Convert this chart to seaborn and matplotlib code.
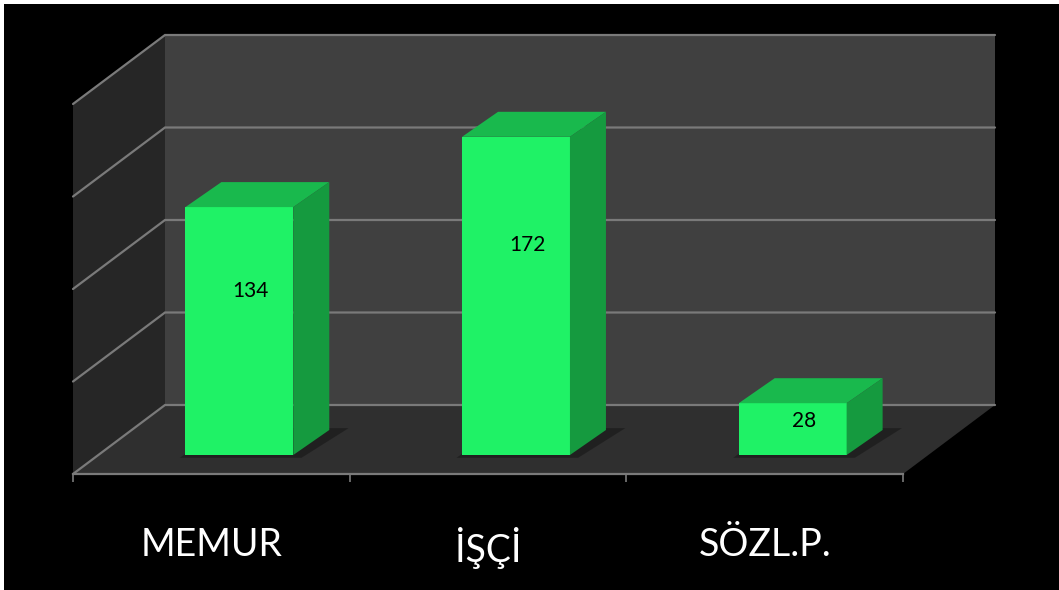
import numpy as np
import pandas as pd
import seaborn as sns
import matplotlib.pyplot as plt
from matplotlib.patches import Polygon, Rectangle

# values
categories = ["MEMUR", "\u0130\u015e\u00c7\u0130", "S\u00d6ZL.P."]
values = [134, 172, 28]
grid_values = [0, 50, 100, 150, 200]

# colours
front_col = "#1ff266"
top_col = "#19b94d"
side_col = "#159a3f"
back_wall = "#404040"
side_wall = "#262626"
floor_col = "#2f2f2f"
grid_col = "#7a7a7a"

W, H = 1059, 590
px_cat = 830 / 3          # pixels per category
px_val = 1.85             # pixels per value unit

# depth vector of the floor (data units of the front plane)
Dx, Dy = 92 / px_cat, 69 / px_val
# bar front offset and bar depth (pixels)
bar_off = (28, 19)
bar_depth = (36 / px_cat, 25 / px_val)

sns.set_style("white")
plt.rcParams["font.family"] = ["Lato", "DejaVu Sans"]

fig = plt.figure(figsize=(W / 100, H / 100), dpi=100, facecolor="white")
fig.add_artist(Rectangle((4 / W, 0), 1, (H - 4) / H, transform=fig.transFigure,
                         facecolor="black", edgecolor="none", zorder=-10))

ylim = (0, 240)
ax_rect = [73 / W, (H - 474) / H, 830 / W, ylim[1] * px_val / H]
ax = fig.add_axes(ax_rect)
ax.set_xlim(-0.5, 2.5)
ax.set_ylim(*ylim)
ax.patch.set_visible(False)

top = grid_values[-1]
x0, x1 = -0.5, 2.5
# walls and floor
ax.add_patch(Polygon([(x0, 0), (x0 + Dx, Dy), (x0 + Dx, Dy + top), (x0, top)],
                     closed=True, facecolor=side_wall, edgecolor="none", clip_on=False, zorder=0))
ax.add_patch(Polygon([(x0 + Dx, Dy), (x1 + Dx, Dy), (x1 + Dx, Dy + top), (x0 + Dx, Dy + top)],
                     closed=True, facecolor=back_wall, edgecolor="none", clip_on=False, zorder=0))
ax.add_patch(Polygon([(x0, 0), (x1, 0), (x1 + Dx, Dy), (x0 + Dx, Dy)],
                     closed=True, facecolor=floor_col, edgecolor="none", clip_on=False, zorder=0))
for v in grid_values:
    ax.plot([x0, x0 + Dx, x1 + Dx], [v, Dy + v, Dy + v], color=grid_col, lw=1.6,
            clip_on=False, zorder=1, solid_joinstyle="miter")

# axis with category labels
ax.set_xticks(range(len(categories)))
ax.set_xticklabels(categories, fontsize=27, color="white")
ax.set_xticks([-0.5, 0.5, 1.5, 2.5], minor=True)
ax.tick_params(axis="x", which="both", bottom=True)
ax.tick_params(axis="x", which="major", length=0, pad=38)
ax.tick_params(axis="x", which="minor", length=6, width=1.2, color=grid_col)
ax.set_yticks([])
for s in ["top", "right", "left"]:
    ax.spines[s].set_visible(False)
ax.spines["bottom"].set_color(grid_col)
ax.spines["bottom"].set_linewidth(1.6)

# bar plane, shifted into the depth
bx = fig.add_axes([ax_rect[0] + bar_off[0] / W, ax_rect[1] + bar_off[1] / H, ax_rect[2], ax_rect[3]])

df = pd.DataFrame({"cat": categories, "val": values})
sns.barplot(data=df, x="cat", y="val", color=front_col, saturation=1, width=0.39,
            ax=bx, zorder=3, edgecolor="none")
bx.set_xlim(-0.5, 2.5)
bx.set_ylim(*ylim)
bx.axis("off")

ddx, ddy = bar_depth
for p, v in zip(list(bx.patches), values):
    bl = p.get_x()
    br = bl + p.get_width()
    h = p.get_height()
    # soft shadow on the floor
    bx.add_patch(Polygon([(bl - 0.02, -1.5), (br + 0.03, -1.5), (br + ddx + 0.07, ddy + 1),
                          (bl + ddx, ddy + 1)], closed=True, facecolor="black",
                         alpha=0.3, edgecolor="none", zorder=2, clip_on=False))
    bx.add_patch(Polygon([(bl, h), (br, h), (br + ddx, h + ddy), (bl + ddx, h + ddy)],
                         closed=True, facecolor=top_col, edgecolor="none", zorder=3, clip_on=False))
    bx.add_patch(Polygon([(br, 0), (br + ddx, ddy), (br + ddx, h + ddy), (br, h)],
                         closed=True, facecolor=side_col, edgecolor="none", zorder=3, clip_on=False))
    bx.text(p.get_x() + p.get_width() / 2 + 0.04, v * 0.66, str(v), ha="center", va="center",
            fontsize=15, color="black", zorder=5)

fig.savefig("out.png", dpi=100, facecolor=fig.get_facecolor())
